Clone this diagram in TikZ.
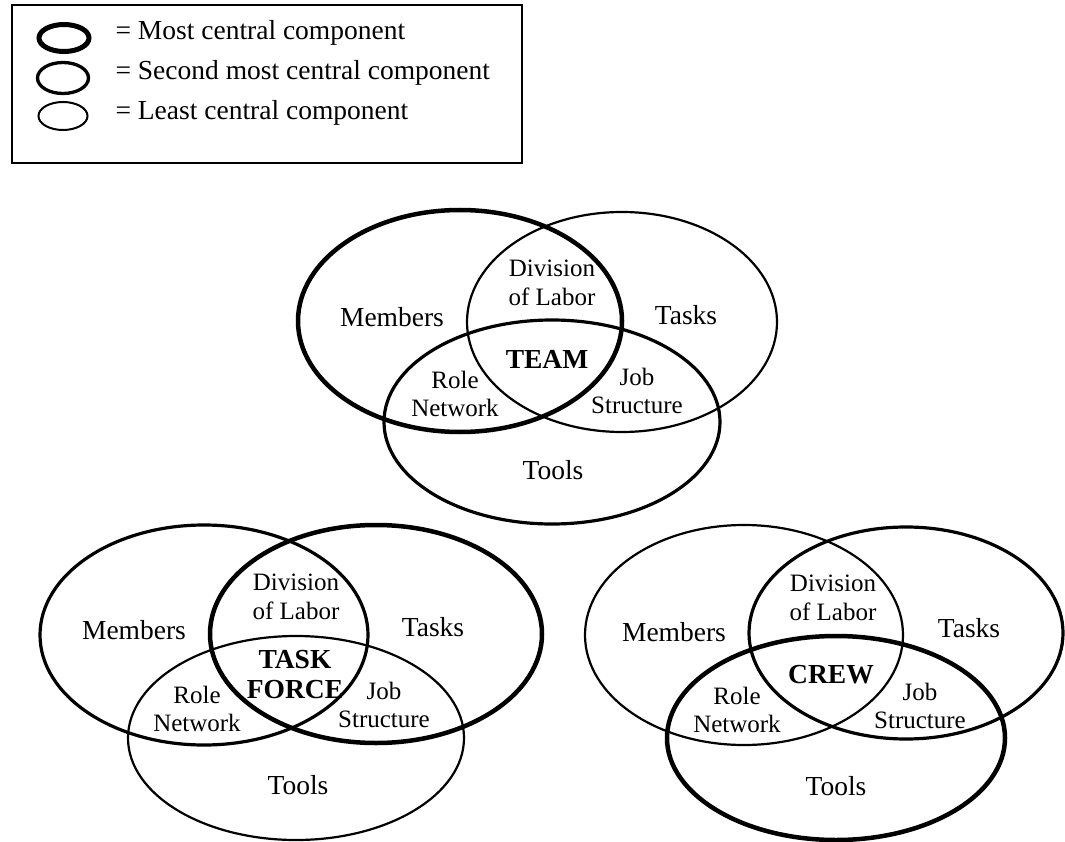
\documentclass[tikz,border=0pt]{standalone}
\usepackage{fontspec}
\setmainfont{Liberation Serif}
\usetikzlibrary{shapes.geometric}
\begin{document}
\begin{tikzpicture}
[
    x=1pt, y=-1pt,
    comp/.style={draw, ellipse, inner sep=0pt},
    most/.style={comp, line width=4.5pt},
    second/.style={comp, line width=3.2pt},
    least/.style={comp, line width=2.2pt},
    size/.style 2 args={minimum width=#1pt, minimum height=#2pt},
    big/.style={font=\fontsize{27.5}{30}\selectfont},
    small/.style={align=center, font=\fontsize{25}{28.5}\selectfont},
    kind/.style={align=center, font=\fontsize{27.5}{30}\selectfont\bfseries},
]
\useasboundingbox (0,0) rectangle (1065,842);
% legend
\node[draw, line width=2.5pt, size={510}{158}, inner sep=0pt] (legend) at (267,84) {};
\node[comp, line width=5pt, size={50}{27}] (lmost) at (64,38) {};
\node[comp, line width=3.3pt, size={51}{31}] (lsecond) at (63,78) {};
\node[comp, line width=2pt, size={49}{28}] (lleast) at (63,116) {};
\node[big, anchor=base west] (tmost) at (112,40) {= Most central component};
\node[big, anchor=base west] (tsecond) at (112,80) {= Second most central component};
\node[big, anchor=base west] (tleast) at (112,120) {= Least central component};
% team
\node[most, size={324}{222}] (teammem) at (460,321) {};
\node[least, size={310}{220}] (teamtask) at (622,322) {};
\node[second, size={336}{204}] (teamtool) at (552,422) {};
\node[big] (teammemlab) at (392,317) {Members};
\node[big] (teamtasklab) at (686,315) {Tasks};
\node[big] (teamtoollab) at (553,470) {Tools};
\node[small] (teamdiv) at (552,283) {Division\\of Labor};
\node[small] (teamrole) at (455,394) {Role\\Network};
\node[small] (teamjob) at (637,391) {Job\\Structure};
\node[kind] (team) at (547,359) {TEAM};
% task force
\node[second, size={328}{220}] (tfmem) at (204,635) {};
\node[most, size={332}{218}] (tftask) at (376,634) {};
\node[least, size={336}{204}] (tftool) at (296,738) {};
\node[big] (tfmemlab) at (134,630) {Members};
\node[big] (tftasklab) at (433,627) {Tasks};
\node[big] (tftoollab) at (298,785) {Tools};
\node[small] (tfdiv) at (296,597) {Division\\of Labor};
\node[small] (tfrole) at (197,709) {Role\\Network};
\node[small] (tfjob) at (384,705) {Job\\Structure};
\node[kind] (taskforce) at (295,675) {TASK\\FORCE};
% crew
\node[least, size={318}{220}] (crewmem) at (744,635) {};
\node[second, size={314}{212}] (crewtask) at (906,633) {};
\node[most, size={338}{204}] (crewtool) at (836,738) {};
\node[big] (crewmemlab) at (674,632) {Members};
\node[big] (crewtasklab) at (969,628) {Tasks};
\node[big] (crewtoollab) at (836,786) {Tools};
\node[small] (crewdiv) at (833,598) {Division\\of Labor};
\node[small] (crewrole) at (737,710) {Role\\Network};
\node[small] (crewjob) at (920,706) {Job\\Structure};
\node[kind] (crew) at (831,675) {CREW};
\end{tikzpicture}
\end{document}
